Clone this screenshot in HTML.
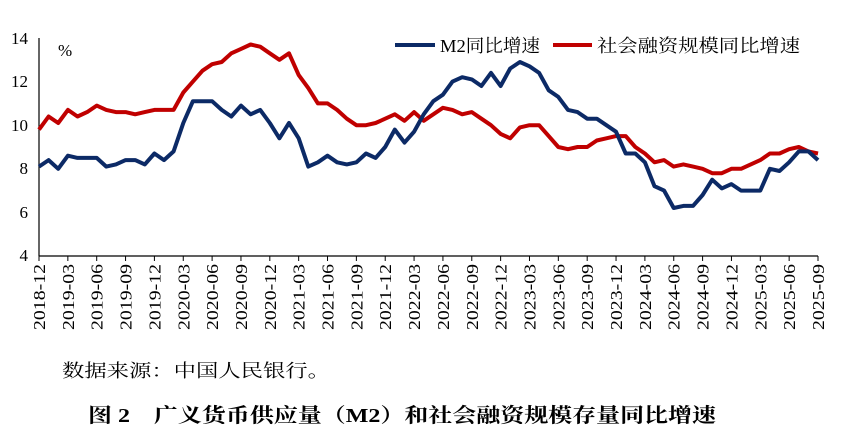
<!DOCTYPE html>
<html><head><meta charset="utf-8"><style>
body{margin:0;background:#fff;width:858px;height:437px;overflow:hidden}
svg text{font-family:"Liberation Serif","Noto Serif CJK SC",serif}
</style></head><body>
<svg id="s" width="858" height="437" xmlns="http://www.w3.org/2000/svg">
<g font-size="17" fill="#000" text-anchor="end">
<text x="28" y="44">14</text><text x="28" y="87">12</text><text x="28" y="131">10</text>
<text x="28" y="174">8</text><text x="28" y="218">6</text><text x="28" y="261">4</text>
</g>
<text x="58" y="56" font-size="17">%</text>
<line x1="39" y1="38" x2="39" y2="256" stroke="#000" stroke-width="1.2"/>
<line x1="39" y1="256" x2="818" y2="256" stroke="#000" stroke-width="1.2"/>
<g id="ticks" stroke="#000" stroke-width="1"></g>
<g id="xl" font-size="17"></g>
<polyline id="red" fill="none" stroke="#c00000" stroke-width="4" stroke-linejoin="round"/>
<polyline id="blue" fill="none" stroke="#0c2a66" stroke-width="4" stroke-linejoin="round"/>
<line x1="395" y1="45" x2="435" y2="45" stroke="#0c2a66" stroke-width="4"/>
<text x="440" y="52" font-size="18" textLength="100" lengthAdjust="spacingAndGlyphs">M2同比增速</text>
<line x1="553" y1="45" x2="592" y2="45" stroke="#c00000" stroke-width="4"/>
<text x="597" y="52" font-size="18" textLength="203" lengthAdjust="spacingAndGlyphs">社会融资规模同比增速</text>
<text x="62" y="377" font-size="18" textLength="268" lengthAdjust="spacingAndGlyphs">数据来源：中国人民银行。</text>
<text x="88" y="422" font-size="20" font-weight="bold" textLength="628" lengthAdjust="spacingAndGlyphs">图 2　广义货币供应量（M2）和社会融资规模存量同比增速</text>
</svg>
<script>
var m2=[8.1,8.4,8.0,8.6,8.5,8.5,8.5,8.1,8.2,8.4,8.4,8.2,8.7,8.4,8.8,10.1,11.1,11.1,11.1,10.7,10.4,10.9,10.5,10.7,10.1,9.4,10.1,9.4,8.1,8.3,8.6,8.3,8.2,8.3,8.7,8.5,9.0,9.8,9.2,9.7,10.5,11.1,11.4,12.0,12.2,12.1,11.8,12.4,11.8,12.6,12.9,12.7,12.4,11.6,11.3,10.7,10.6,10.3,10.3,10.0,9.7,8.7,8.7,8.3,7.2,7.0,6.2,6.3,6.3,6.8,7.5,7.1,7.3,7.0,7.0,7.0,8.0,7.9,8.3,8.8,8.8,8.4];
var tsf=[9.8,10.4,10.1,10.7,10.4,10.6,10.9,10.7,10.6,10.6,10.5,10.6,10.7,10.7,10.7,11.5,12.0,12.5,12.8,12.9,13.3,13.5,13.7,13.6,13.3,13.0,13.3,12.3,11.7,11.0,11.0,10.7,10.3,10.0,10.0,10.1,10.3,10.5,10.2,10.6,10.2,10.5,10.8,10.7,10.5,10.6,10.3,10.0,9.6,9.4,9.9,10.0,10.0,9.5,9.0,8.9,9.0,9.0,9.3,9.4,9.5,9.5,9.0,8.7,8.3,8.4,8.1,8.2,8.1,8.0,7.8,7.8,8.0,8.0,8.2,8.4,8.7,8.7,8.9,9.0,8.8,8.7];
function X(i){return 39+i*(818-39)/81}
function Y(v){return 256-(v-4)*21.8}
function pts(a){return a.map(function(v,i){return X(i).toFixed(1)+","+Y(v).toFixed(1)}).join(" ")}
document.getElementById("blue").setAttribute("points",pts(m2));
document.getElementById("red").setAttribute("points",pts(tsf));
var t="",l="";
for(var i=0;i<=81;i+=3){var x=X(i);t+='<line x1="'+x+'" y1="256" x2="'+x+'" y2="261"/>';
var yr=2018+Math.floor((i+11)/12),mo=((i+11)%12)+1;var s=yr+"-"+(mo<10?"0":"")+mo;
l+='<text transform="translate('+(x+6)+',264) rotate(-90)" text-anchor="end" textLength="66" lengthAdjust="spacingAndGlyphs">'+s+'</text>';}
document.getElementById("ticks").innerHTML=t;document.getElementById("xl").innerHTML=l;
</script>
</body></html>
